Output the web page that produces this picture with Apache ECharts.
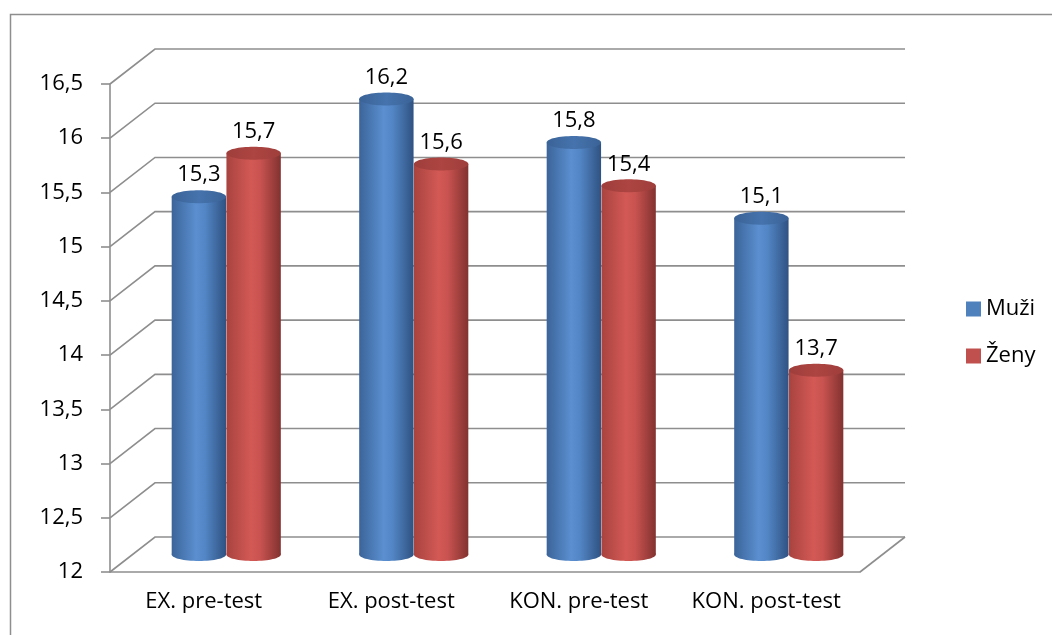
<!DOCTYPE html>
<html>
<head>
<meta charset="utf-8">
<script src="https://cdn.jsdelivr.net/npm/echarts@6/dist/echarts.min.js"></script>
<style>
  html, body { margin: 0; padding: 0; background: #fff; }
  #chart { width: 1052px; height: 635px; }
</style>
</head>
<body>
<div id="chart"></div>
<script>
// Categories and values per group
const categories = ['EX. pre-test', 'EX. post-test', 'KON. pre-test', 'KON. post-test'];
const muzi = [15.3, 16.2, 15.8, 15.1];
const zeny = [15.7, 15.6, 15.4, 13.7];
const yTicks = [12, 12.5, 13, 13.5, 14, 14.5, 15, 15.5, 16, 16.5];

const Y_MIN = 12, Y_MAX = 16.5, Y_STEP = 0.5;
const FONT = '"Open Sans", "Noto Sans", sans-serif';
const FONT_SIZE = 22;
const WALL = '#8e8e8e';

// 3D depth of the box (back wall offset from the front plane)
const DX = 45, DY = 35;

const fmt = v => v.toFixed(1).replace('.', ',');

// Back wall, side wall and floor lines at every tick value
function renderWalls(params, api) {
  const cs = params.coordSys;
  const v = api.value(1);
  const y = api.coord([0, v])[1];
  const x0 = cs.x, x1 = cs.x + cs.width;
  const style = { stroke: WALL, lineWidth: 1.6, fill: null };
  const children = [{
    type: 'polyline',
    shape: { points: [[x0, y], [x0 + DX, y - DY], [x1 + DX, y - DY]] },
    style: style
  }];
  if (v === Y_MIN) {
    children.push({
      type: 'line',
      shape: { x1: x1, y1: y, x2: x1 + DX, y2: y - DY },
      style: style
    });
  }
  return { type: 'group', children: children };
}

function cylinderRenderer(side, body, topColors) {
  return function (params, api) {
    const cat = api.value(0), val = api.value(1);
    const band = api.size([1, 0])[0];
    const base = api.coord([cat, Y_MIN]);
    const top = api.coord([cat, val]);
    const r = band * 0.145;
    const ry = 6.5;
    const cx = base[0] + DX / 2 + side * band * 0.146;
    const by = base[1] - DY / 2;
    const ty = top[1] - DY / 2;
    const grad = new echarts.graphic.LinearGradient(0, 0, 1, 0, body);
    const topGrad = new echarts.graphic.LinearGradient(0, 0, 1, 0, topColors);
    return {
      type: 'group',
      children: [
        { type: 'ellipse', shape: { cx: cx, cy: by, rx: r, ry: ry }, style: { fill: grad } },
        { type: 'rect', shape: { x: cx - r, y: ty, width: 2 * r, height: by - ty }, style: { fill: grad } },
        { type: 'ellipse', shape: { cx: cx, cy: ty, rx: r, ry: ry }, style: { fill: topGrad } },
        {
          type: 'text',
          style: {
            text: fmt(val), x: cx, y: ty - ry - 4,
            align: 'center', verticalAlign: 'bottom',
            fontFamily: FONT, fontSize: FONT_SIZE, fill: '#000'
          }
        }
      ]
    };
  };
}

const blueBody = [
  { offset: 0, color: '#3b6499' }, { offset: 0.45, color: '#5b8fd0' },
  { offset: 0.62, color: '#5285c4' }, { offset: 1, color: '#2f5282' }
];
const blueTop = [
  { offset: 0, color: '#3a6397' }, { offset: 0.5, color: '#4673ad' }, { offset: 1, color: '#3a6397' }
];
const redBody = [
  { offset: 0, color: '#a8433f' }, { offset: 0.45, color: '#d35955' },
  { offset: 0.62, color: '#c95350' }, { offset: 1, color: '#823230' }
];
const redTop = [
  { offset: 0, color: '#9e3e3b' }, { offset: 0.5, color: '#ad4542' }, { offset: 1, color: '#9e3e3b' }
];

const chart = echarts.init(document.getElementById('chart'), null, { renderer: 'canvas' });
chart.setOption({
  animation: false,
  backgroundColor: '#fff',
  graphic: [{
    type: 'rect', left: 8, top: 12, z: 0,
    shape: { x: 0, y: 0, width: 1100, height: 700 },
    style: { fill: 'none', stroke: '#8e8e8e', lineWidth: 1.5 }
  }],
  legend: {
    data: ['Muži', 'Ženy'],
    orient: 'vertical',
    left: 961, top: 291,
    icon: 'rect', itemWidth: 15, itemHeight: 15, itemGap: 21,
    textStyle: { fontFamily: FONT, fontSize: FONT_SIZE, color: '#000', lineHeight: 26 }
  },
  grid: { left: 110, right: 192, top: 84, bottom: 63 },
  xAxis: {
    type: 'category',
    data: categories,
    axisLine: { lineStyle: { color: WALL, width: 1.6 } },
    axisTick: { length: 8, interval: 0, lineStyle: { color: WALL, width: 1.6 } },
    axisLabel: { interval: 0, hideOverlap: false, margin: 19, fontFamily: FONT, fontSize: FONT_SIZE, color: '#000' },
    splitLine: { show: false }
  },
  yAxis: {
    type: 'value',
    min: Y_MIN, max: Y_MAX, interval: Y_STEP,
    axisLine: { show: true, lineStyle: { color: WALL, width: 1.6 } },
    axisTick: { show: true, length: 9, lineStyle: { color: WALL, width: 1.6 } },
    axisLabel: { margin: 27, fontFamily: FONT, fontSize: FONT_SIZE, color: '#000', formatter: v => String(v).replace('.', ',') },
    splitLine: { show: false }
  },
  series: [
    {
      name: 'walls', type: 'custom', silent: true, z: 1,
      renderItem: renderWalls,
      data: yTicks.map(v => [0, v])
    },
    {
      name: 'Muži', type: 'custom', z: 3,
      itemStyle: { color: '#4f81bd' },
      renderItem: cylinderRenderer(-1, blueBody, blueTop),
      data: muzi.map((v, i) => [i, v])
    },
    {
      name: 'Ženy', type: 'custom', z: 4,
      itemStyle: { color: '#c0504d' },
      renderItem: cylinderRenderer(1, redBody, redTop),
      data: zeny.map((v, i) => [i, v])
    }
  ]
});
</script>
</body>
</html>
